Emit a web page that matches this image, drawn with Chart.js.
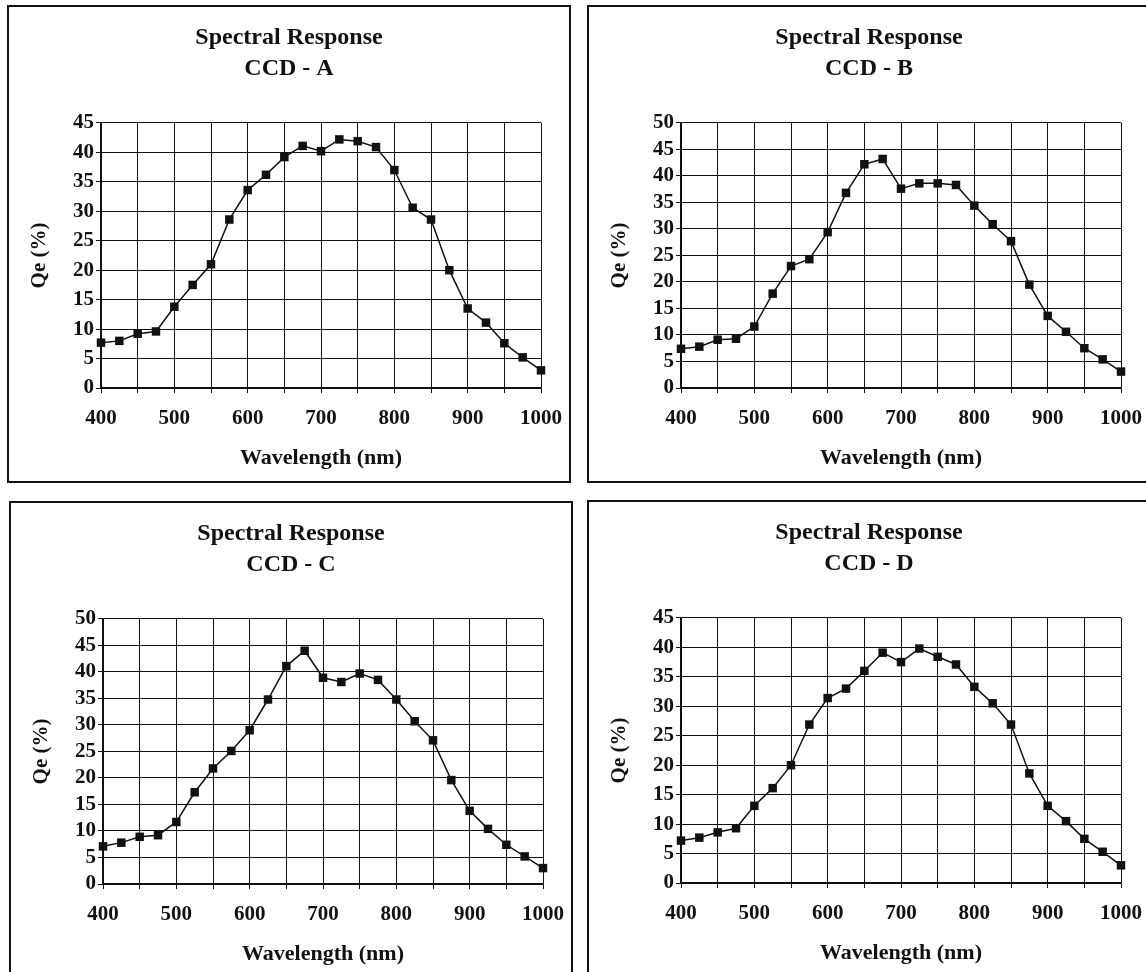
<!DOCTYPE html>
<html>
<head>
<meta charset="utf-8">
<script src="https://cdn.jsdelivr.net/npm/chart.js@4"></script>
<style>
  body { margin: 0; background: #fff; width: 1146px; height: 972px; overflow: hidden; position: relative; }
  .panel { position: absolute; width: 564px; height: 478px; }
  .panel canvas { position: absolute; left: 0; top: 0; }
  .marco { position: absolute; left: 0; top: 0; width: 564px; height: 478px; box-sizing: border-box; border: 2px solid #111; pointer-events: none; }
</style>
</head>
<body>
<div class="panel" style="left:7px;top:5px"><canvas id="plotA" width="564" height="478"></canvas><div class="marco"></div></div>
<div class="panel" style="left:587px;top:5px"><canvas id="plotB" width="564" height="478"></canvas><div class="marco"></div></div>
<div class="panel" style="left:9px;top:501px"><canvas id="plotC" width="564" height="478"></canvas><div class="marco"></div></div>
<div class="panel" style="left:587px;top:500px"><canvas id="plotD" width="564" height="478"></canvas><div class="marco"></div></div>
<script>
// datos
let wavelengths = [400, 425, 450, 475, 500, 525, 550, 575, 600, 625, 650, 675, 700, 725, 750, 775, 800, 825, 850, 875, 900, 925, 950, 975, 1000]
let qeA = [7.7, 8.0, 9.2, 9.6, 13.8, 17.5, 21.0, 28.6, 33.6, 36.2, 39.2, 41.1, 40.2, 42.2, 41.9, 40.9, 37.0, 30.6, 28.6, 20.0, 13.5, 11.1, 7.6, 5.2, 3.0]
let qeB = [7.4, 7.8, 9.1, 9.3, 11.6, 17.8, 23.0, 24.3, 29.4, 36.8, 42.2, 43.2, 37.6, 38.6, 38.6, 38.3, 34.4, 30.9, 27.7, 19.5, 13.6, 10.6, 7.5, 5.4, 3.1]
let qeC = [7.1, 7.8, 8.9, 9.2, 11.7, 17.3, 21.8, 25.1, 29.0, 34.8, 41.1, 44.0, 38.9, 38.1, 39.7, 38.5, 34.8, 30.7, 27.1, 19.6, 13.8, 10.4, 7.4, 5.2, 3.0]
let qeD = [7.2, 7.7, 8.6, 9.3, 13.1, 16.1, 20.0, 26.9, 31.4, 33.0, 36.0, 39.1, 37.5, 39.8, 38.4, 37.1, 33.3, 30.5, 26.9, 18.6, 13.1, 10.5, 7.5, 5.3, 3.0]
let xTickLabels = [400, 500, 600, 700, 800, 900, 1000]
let ccdNames = ['CCD - A', 'CCD - B', 'CCD - C', 'CCD - D']
let yMaxValues = [45, 50, 50, 45]

let serif = "'Liberation Serif', 'Times New Roman', serif"
let tinta = '#111'

let crearGrafico = (id, nombre, valores, yMax) => {
  let plotRef = document.getElementById(id)
  let puntos = wavelengths.map((w, i) => ({ x: w, y: valores[i] }))

  let config = {
    type: 'line',
    data: {
      datasets: [
        {
          label: nombre,
          data: puntos,
          borderColor: tinta,
          borderWidth: 1.5,
          backgroundColor: tinta,
          pointStyle: 'rect',
          pointRadius: 6,
          pointBorderWidth: 0,
          pointBackgroundColor: tinta,
          tension: 0,
          clip: false
        }
      ]
    },
    options: {
      responsive: false,
      animation: false,
      layout: { padding: 0 },
      plugins: {
        legend: { display: false },
        tooltip: { enabled: false },
        title: {
          display: true,
          text: ['Spectral Response', nombre],
          color: tinta,
          font: { family: serif, size: 24, weight: 'bold', lineHeight: 1.29 },
          padding: { top: 17.5, bottom: 38.5 }
        }
      },
      scales: {
        x: {
          type: 'linear',
          min: 400,
          max: 1000,
          afterFit: (scale) => { scale.height = 95; scale.paddingRight = 30 },
          ticks: {
            stepSize: 50,
            autoSkip: false,
            maxRotation: 0,
            padding: 13,
            color: tinta,
            font: { family: serif, size: 21, weight: 'bold' },
            callback: (v) => xTickLabels.includes(v) ? String(v) : ''
          },
          grid: { color: tinta, lineWidth: 1, tickLength: 5 },
          border: { color: tinta, width: 1.5 },
          title: {
            display: true,
            text: 'Wavelength (nm)',
            color: tinta,
            font: { family: serif, size: 22, weight: 'bold' },
            padding: { top: 0, bottom: 11 }
          }
        },
        y: {
          min: 0,
          max: yMax,
          afterFit: (scale) => { scale.width = 94 },
          ticks: {
            stepSize: 5,
            autoSkip: false,
            padding: 2,
            color: tinta,
            font: { family: serif, size: 21, weight: 'bold' }
          },
          grid: { color: tinta, lineWidth: 1, tickLength: 5 },
          border: { color: tinta, width: 1.5 },
          title: {
            display: true,
            text: 'Qe (%)',
            color: tinta,
            font: { family: serif, size: 21, weight: 'bold' },
            padding: { top: 20, bottom: 0 }
          }
        }
      }
    }
  }

  return new Chart(plotRef, config)
}

crearGrafico('plotA', ccdNames[0], qeA, yMaxValues[0])
crearGrafico('plotB', ccdNames[1], qeB, yMaxValues[1])
crearGrafico('plotC', ccdNames[2], qeC, yMaxValues[2])
crearGrafico('plotD', ccdNames[3], qeD, yMaxValues[3])
</script>
</body>
</html>
